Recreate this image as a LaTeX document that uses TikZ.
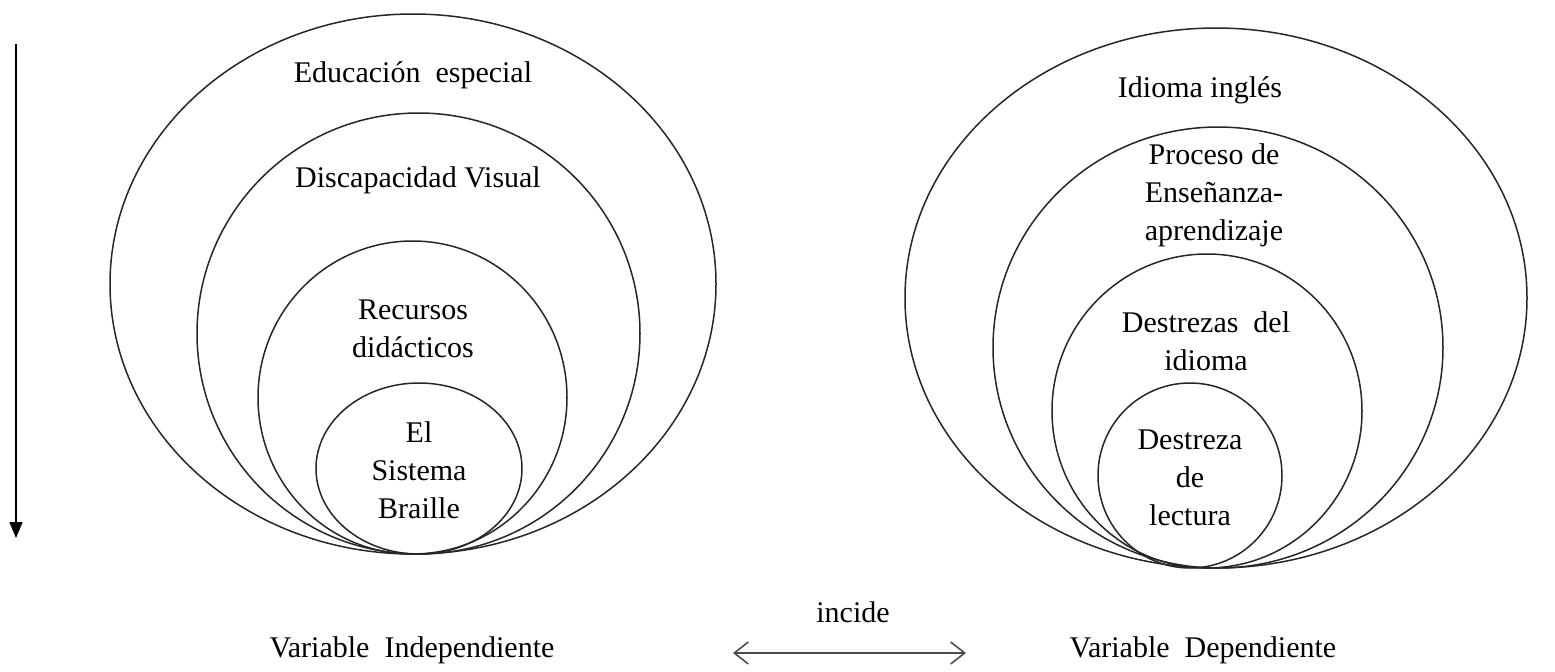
\documentclass[tikz,border=0pt]{standalone}
\usepackage{fontspec}
\setmainfont{Liberation Serif}
\usetikzlibrary{arrows.meta}
\begin{document}
\begin{tikzpicture}[x=0.5pt,y=-0.5pt,
  ring/.style={line width=0.75pt, draw=black!85},
  lbl/.style={align=center, font=\fontsize{15}{19}\selectfont, inner sep=0pt},
  arr/.style={line width=0.8pt}]
\useasboundingbox (0,0) rectangle (1555,671);
% left set
\draw[ring] (413,284) ellipse [x radius=303, y radius=270];
\draw[ring] (418.5,333.5) ellipse [x radius=221.5, y radius=220.5];
\draw[ring] (412.5,397.5) ellipse [x radius=154.5, y radius=156.5];
\draw[ring] (419,468.5) ellipse [x radius=103, y radius=85.5];
% right set
\draw[ring] (1216,298) ellipse [x radius=311, y radius=270];
\draw[ring] (1218,347.5) ellipse [x radius=225, y radius=220.5];
\draw[ring] (1207,411) ellipse [x radius=155, y radius=157];
\draw[ring] (1190,475.5) ellipse [x radius=92, y radius=92.5];
% texts
\node[lbl] (t1) at (413,75) {Educación\ \ especial};
\node[lbl] (t2) at (418,180) {Discapacidad Visual};
\node[lbl] (t3) at (413,329) {Recursos\\didácticos};
\node[lbl] (t4) at (419,470) {El\\Sistema\\Braille};
\node[lbl] (r1) at (1200,90) {Idioma inglés};
\node[lbl] (r2) at (1214,195) {Proceso de\\Enseñanza-\\aprendizaje};
\node[lbl] (r3) at (1206,341) {Destrezas\ \ del\\idioma};
\node[lbl] (r4) at (1190,478) {Destreza\\de\\lectura};
\node[lbl] (inc) at (853,612) {incide};
\node[lbl] (vi) at (412,650) {Variable\ \ Independiente};
\node[lbl] (vd) at (1203,650) {Variable\ \ Dependiente};
% arrows
\coordinate (a1) at (16,44);
\coordinate (a2) at (16,538);
\draw[arr, -{Triangle[length=8pt,width=6.5pt]}] (a1) -- (a2);
\coordinate (b1) at (733,653);
\coordinate (b2) at (966,653);
\draw[arr, draw=black!70, {Straight Barb[length=7pt,width=11pt]}-{Straight Barb[length=7pt,width=11pt]}] (b1) -- (b2);
\end{tikzpicture}
\end{document}
